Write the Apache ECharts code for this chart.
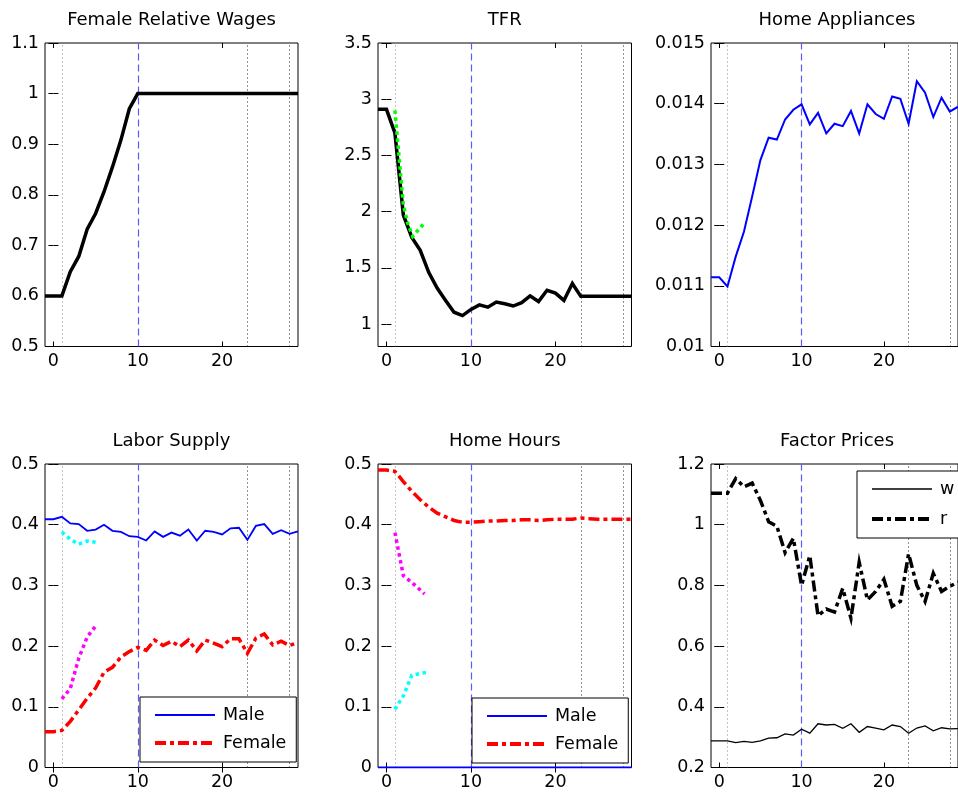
<!DOCTYPE html>
<html><head><meta charset="utf-8">
<script src="https://cdn.jsdelivr.net/npm/echarts@6/dist/echarts.min.js"></script>
<style>html,body{margin:0;padding:0;background:#fff}#c{width:958px;height:798px}</style>
</head><body><div id="c"></div><script>
// ---------------- data ----------------
const periods = [-1,0,1,2,3,4,5,6,7,8,9,10,11,12,13,14,15,16,17,18,19,20,21,22,23,24,25,26,27,28,29];

const femaleRelWage = [0.60,0.60,0.60,0.648,0.678,0.732,0.763,0.806,0.855,0.908,0.970,1.0,
  1.0,1.0,1.0,1.0,1.0,1.0,1.0,1.0,1.0,1.0,1.0,1.0,1.0,1.0,1.0,1.0,1.0,1.0,1.0];

const tfr = [2.91,2.91,2.70,1.97,1.77,1.655,1.46,1.32,1.21,1.105,1.075,1.13,1.17,1.15,1.195,1.18,
  1.16,1.19,1.25,1.20,1.30,1.275,1.21,1.36,1.246,1.246,1.246,1.246,1.246,1.246,1.246];
const tfrObsX = [1,2,2.5,3.1,4.4];
const tfrObs  = [2.90,2.06,1.90,1.78,1.89];

const appliances = [0.01114,0.01114,0.01099,0.01148,0.01189,0.01247,0.01307,0.01344,0.01341,0.01374,
  0.01390,0.01399,0.01366,0.01385,0.01351,0.01367,0.01363,0.01388,0.01351,0.01399,0.01383,0.01375,
  0.01412,0.01408,0.01367,0.01437,0.01418,0.01378,0.01410,0.01387,0.01395];

const laborMale = [0.409,0.409,0.413,0.402,0.401,0.390,0.392,0.400,0.390,0.388,0.381,0.380,0.374,
  0.389,0.380,0.387,0.382,0.392,0.374,0.390,0.388,0.384,0.394,0.395,0.375,0.398,0.401,0.385,0.391,0.385,0.389];
const laborFemale = [0.059,0.059,0.061,0.076,0.095,0.114,0.131,0.157,0.165,0.182,0.191,0.198,0.193,
  0.210,0.201,0.208,0.199,0.210,0.192,0.210,0.205,0.199,0.212,0.212,0.188,0.213,0.220,0.202,0.208,0.201,0.206];
const laborMaleObsX = [1,2,3,4,5];
const laborMaleObs  = [0.388,0.376,0.368,0.373,0.371];
const laborFemaleObsX = [1,2,3,4,5];
const laborFemaleObs  = [0.113,0.130,0.180,0.215,0.233];

const homeMale = [0,0,0,0,0,0,0,0,0,0,0,0,0,0,0,0,0,0,0,0,0,0,0,0,0,0,0,0,0,0,0];
const homeFemale = [0.490,0.490,0.488,0.471,0.455,0.441,0.429,0.419,0.413,0.407,0.404,0.404,0.405,
  0.406,0.406,0.407,0.407,0.408,0.408,0.407,0.408,0.409,0.409,0.409,0.411,0.410,0.409,0.409,0.409,0.409,0.409];
const homeFemaleObsX = [1,2,3,4.5];
const homeFemaleObs  = [0.387,0.316,0.305,0.286];
const homeMaleObsX = [1,2,3,4,5];
const homeMaleObs  = [0.096,0.118,0.152,0.155,0.157];

const wageW = [0.288,0.288,0.288,0.282,0.286,0.283,0.288,0.297,0.298,0.311,0.307,0.326,0.313,0.344,
  0.340,0.342,0.329,0.344,0.316,0.335,0.330,0.324,0.340,0.335,0.313,0.330,0.337,0.321,0.331,0.327,0.328];
const rentR = [1.104,1.104,1.104,1.152,1.125,1.137,1.08,1.01,0.995,0.908,0.955,0.80,0.898,0.70,0.722,
  0.712,0.79,0.692,0.876,0.752,0.78,0.82,0.731,0.747,0.904,0.80,0.747,0.84,0.78,0.797,0.81];

const xTicks = [0, 10, 20];
const xRange = [-1, 29];
const refPeriod = 10;
const lightMarks = [1];
const darkMarks = [23, 28];

const wageTicks  = [0.5,0.6,0.7,0.8,0.9,1.0,1.1];
const tfrTicks   = [1,1.5,2,2.5,3,3.5];
const applTicks  = [0.010,0.011,0.012,0.013,0.014,0.015];
const laborTicks = [0,0.1,0.2,0.3,0.4,0.5];
const homeTicks  = [0,0.1,0.2,0.3,0.4,0.5];
const priceTicks = [0.2,0.4,0.6,0.8,1.0,1.2];

const titles = ['Female Relative Wages','TFR','Home Appliances','Labor Supply','Home Hours','Factor Prices'];

// ---------------- layout ----------------
const FONT = 'DejaVu Sans';
const rects = [
  {left:45,  top:43,  width:253,   height:303.5},
  {left:378, top:43,  width:253.5, height:303.5},
  {left:711, top:43,  width:252,   height:303.5},
  {left:45,  top:464, width:253,   height:303.5},
  {left:378, top:464, width:253.5, height:303.5},
  {left:711, top:464, width:252,   height:303.5}
];
const yCfg = [
  {min:0.5, max:1.1, ticks:wageTicks},
  {min:0.8, max:3.5, ticks:tfrTicks},
  {min:0.01, max:0.015, ticks:applTicks},
  {min:0, max:0.5, ticks:laborTicks},
  {min:0, max:0.5, ticks:homeTicks},
  {min:0.2, max:1.2, ticks:priceTicks}
];

const fmt = v => String(+(+v).toFixed(6));
const pairs = (xs, ys) => xs.map((x, i) => [x, ys[i]]);

const grids = [], xAxes = [], yAxes = [], titleArr = [];
rects.forEach((r, i) => {
  grids.push(Object.assign({show:true, borderColor:'#000', borderWidth:1, backgroundColor:'#fff', containLabel:false}, r));
  const tick = {show:true, inside:true, length:5, lineStyle:{color:'#000', width:1}};
  xAxes.push({type:'value', gridIndex:i, position:'bottom', min:xRange[0], max:xRange[1],
    axisLine:{show:false}, splitLine:{show:false},
    axisTick:Object.assign({customValues:xTicks}, tick),
    axisLabel:{customValues:xTicks, color:'#000', fontFamily:FONT, fontSize:17.5, margin:6, formatter:fmt}});
  xAxes.push({type:'value', gridIndex:i, position:'top', min:xRange[0], max:xRange[1],
    axisLine:{show:false}, splitLine:{show:false},
    axisTick:Object.assign({customValues:xTicks}, tick), axisLabel:{show:false}});
  const y = yCfg[i];
  yAxes.push({type:'value', gridIndex:i, position:'left', min:y.min, max:y.max,
    axisLine:{show:false}, splitLine:{show:false},
    axisTick:Object.assign({customValues:y.ticks}, tick),
    axisLabel:{customValues:y.ticks, color:'#000', fontFamily:FONT, fontSize:17.5, margin:6, formatter:fmt}});
  yAxes.push({type:'value', gridIndex:i, position:'right', min:y.min, max:y.max,
    axisLine:{show:false}, splitLine:{show:false},
    axisTick:Object.assign({customValues:y.ticks}, tick), axisLabel:{show:false}});
  titleArr.push({text:titles[i], left:r.left + r.width/2, top: i < 3 ? 11 : 432, textAlign:'center', padding:0,
    textStyle:{fontFamily:FONT, fontSize:18, fontWeight:'normal', color:'#000'}});
});

function marks() {
  const d = [];
  lightMarks.forEach(v => d.push({xAxis:v, lineStyle:{color:'#888', type:[1,3], width:1}}));
  darkMarks.forEach(v => d.push({xAxis:v, lineStyle:{color:'#222', type:[1,3], width:1}}));
  d.push({xAxis:refPeriod, lineStyle:{color:'#5a5aff', type:[7,4], width:1.2}});
  return {silent:true, symbol:['none','none'], label:{show:false}, animation:false, z:1, data:d};
}
function line(i, name, data, color, width, type, withMarks) {
  const s = {type:'line', name:name, xAxisIndex:2*i, yAxisIndex:2*i, data:data, symbol:'none',
    showSymbol:false, animation:false, z:2,
    lineStyle:{color:color, width:width, type:type || 'solid', cap:'butt', join:'miter'},
    itemStyle:{color:color}, emphasis:{disabled:true}};
  if (withMarks) s.markLine = marks();
  return s;
}
const DASHDOT = [11,4,4,4];
const DOT = [3.5,3.5];

const series = [
  line(0, 'wage', pairs(periods, femaleRelWage), '#000', 3.5, 'solid', true),
  line(1, 'tfr', pairs(periods, tfr), '#000', 3.5, 'solid', true),
  line(1, 'tfrObs', pairs(tfrObsX, tfrObs), '#00ff00', 3.5, DOT),
  line(2, 'appl', pairs(periods, appliances), '#0000ff', 2, 'solid', true),
  line(3, 'Male', pairs(periods, laborMale), '#0000ff', 1.8, 'solid', true),
  line(3, 'Female', pairs(periods, laborFemale), '#ff0000', 3.5, DASHDOT),
  line(3, 'laborMaleObs', pairs(laborMaleObsX, laborMaleObs), '#00ffff', 3.5, DOT),
  line(3, 'laborFemaleObs', pairs(laborFemaleObsX, laborFemaleObs), '#ff00ff', 3.5, DOT),
  line(4, 'Male', pairs(periods, homeMale), '#0000ff', 2, 'solid', true),
  line(4, 'Female', pairs(periods, homeFemale), '#ff0000', 3.5, DASHDOT),
  line(4, 'homeFemaleObs', pairs(homeFemaleObsX, homeFemaleObs), '#ff00ff', 3.5, DOT),
  line(4, 'homeMaleObs', pairs(homeMaleObsX, homeMaleObs), '#00ffff', 3.5, DOT),
  line(5, 'w', pairs(periods, wageW), '#000', 1.3, 'solid', true),
  line(5, 'r', pairs(periods, rentR), '#000', 3.5, DASHDOT)
];

function legend(items, left, top, gap) {
  return {data:items, orient:'vertical', left:left, top:top, itemWidth:60, itemHeight:14, itemGap:gap,
    padding:[9,10,10,13], borderColor:'#000', borderWidth:1, backgroundColor:'#fff', selectedMode:false,
    itemStyle:{opacity:0, borderWidth:0},
    textStyle:{fontFamily:FONT, fontSize:17.5, color:'#000', lineHeight:18, padding:[0,0,0,3]}};
}
const mfItems = [
  {name:'Male', lineStyle:{color:'#0000ff', width:1.8, type:'solid'}},
  {name:'Female', lineStyle:{color:'#ff0000', width:4, type:DASHDOT}}
];
const wrItems = [
  {name:'w', lineStyle:{color:'#000', width:1.3, type:'solid'}},
  {name:'r', lineStyle:{color:'#000', width:4, type:DASHDOT}}
];

const chart = echarts.init(document.getElementById('c'), null, {renderer:'canvas'});
chart.setOption({
  animation:false,
  backgroundColor:'#fff',
  title:titleArr,
  grid:grids, xAxis:xAxes, yAxis:yAxes,
  legend:[legend(mfItems, 140, 697, 10), legend(mfItems, 472, 698, 10), legend(wrItems, 857, 471, 12)],
  series:series
});
</script></body></html>
